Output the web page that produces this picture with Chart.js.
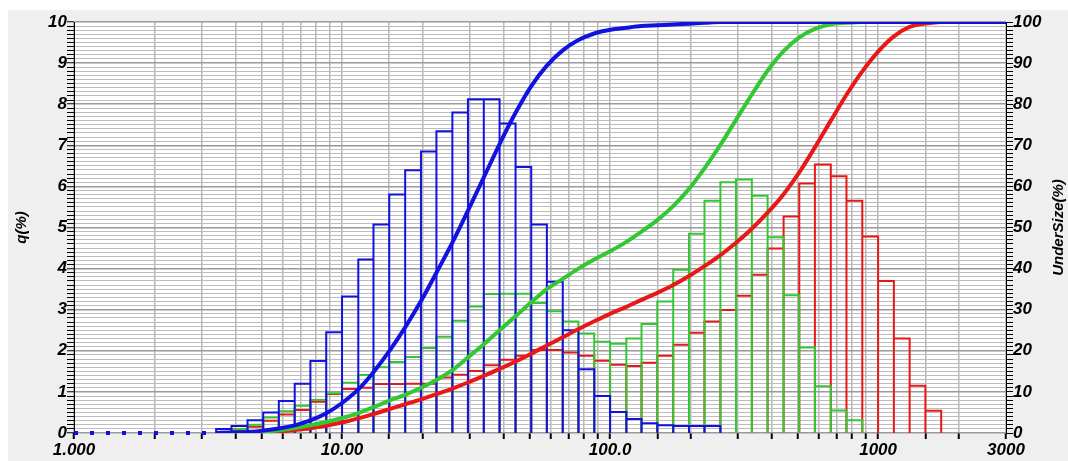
<!DOCTYPE html>
<html>
<head>
<meta charset="utf-8">
<script src="https://cdn.jsdelivr.net/npm/chart.js@4.4.1/dist/chart.umd.min.js"></script>
<style>
  body { margin: 0; background: #efefef; }
  canvas { display: block; }
</style>
</head>
<body>
<canvas id="psd" width="1068" height="461"></canvas>
<script>
// particle size channel edges (um), log spaced
var sizes = [3.39, 3.87, 4.44, 5.08, 5.81, 6.66, 7.62, 8.73, 10.0, 11.5, 13.1, 15.0, 17.2, 19.7,
  22.5, 25.8, 29.5, 33.8, 38.7, 44.4, 50.8, 58.1, 66.6, 76.2, 87.3, 100, 115, 131, 150, 172,
  197, 225, 258, 295, 338, 387, 444, 508, 581, 666, 762, 873, 1000, 1145, 1311, 1501, 1719];

// q(%) per channel (between sizes[i] and sizes[i+1])
var blueQ = [0.1, 0.17, 0.31, 0.5, 0.78, 1.2, 1.75, 2.45, 3.32, 4.22, 5.07, 5.8, 6.39, 6.85, 7.34,
  7.8, 8.12, 8.12, 7.53, 6.47, 5.07, 3.68, 2.5, 1.55, 0.9, 0.51, 0.34, 0.24, 0.19, 0.17, 0.17, 0.17,
  0, 0, 0, 0, 0, 0, 0, 0, 0, 0, 0, 0, 0, 0];
var greenQ = [0, 0.1, 0.2, 0.38, 0.53, 0.66, 0.8, 0.97, 1.22, 1.41, 1.6, 1.73, 1.85, 2.07, 2.34,
  2.73, 3.08, 3.38, 3.39, 3.39, 3.16, 2.96, 2.71, 2.42, 2.22, 2.17, 2.3, 2.65, 3.2, 3.97, 4.85,
  5.65, 6.1, 6.17, 5.77, 4.76, 3.35, 2.08, 1.14, 0.55, 0.31, 0, 0, 0, 0, 0];
var redQ = [0, 0.05, 0.15, 0.3, 0.45, 0.56, 0.76, 0.95, 1.07, 1.1, 1.19, 1.19, 1.2, 1.2, 1.35,
  1.42, 1.51, 1.65, 1.78, 1.88, 2.02, 2.02, 1.96, 1.88, 1.76, 1.66, 1.63, 1.71, 1.88, 2.15, 2.44,
  2.71, 2.99, 3.34, 3.85, 4.49, 5.27, 6.07, 6.53, 6.25, 5.65, 4.78, 3.7, 2.3, 1.15, 0.54];

// UnderSize(%) at each edge, last entry is at the 3000 end of the axis
var cumSizes = sizes.concat([3000]);
var blueCum = [0, 0.1, 0.27, 0.58, 1.08, 1.86, 3.06, 4.81, 7.3, 10.6, 14.8, 19.9, 25.7, 32.1, 39.0,
  46.3, 54.1, 62.2, 70.3, 77.9, 84.4, 89.4, 93.1, 95.6, 97.2, 98.1, 98.6, 99.0, 99.2, 99.4, 99.6,
  99.8, 100, 100, 100, 100, 100, 100, 100, 100, 100, 100, 100, 100, 100, 100, 100, 100];
var greenCum = [null, 0, 0.1, 0.3, 0.68, 1.21, 1.87, 2.67, 3.64, 4.86, 6.27, 7.87, 9.3, 11.0, 12.9,
  15.3, 18.4, 21.6, 25.0, 28.4, 31.8, 35.0, 37.5, 40.0, 42.2, 44.2, 46.5, 49.0, 51.8, 55.2, 59.4,
  64.4, 70.09, 76.19, 82.36, 88.13, 92.89, 96.24, 98.32, 99.46, 99.8, 100, 100, 100, 100, 100, 100, 100];
var redCum = [null, 0, 0.03, 0.12, 0.35, 0.7, 1.15, 1.8, 2.55, 3.55, 4.6, 5.8, 7.0, 8.2, 9.45,
  10.8, 12.3, 13.9, 15.6, 17.4, 19.3, 21.3, 23.3, 25.3, 27.2, 29.0, 30.7, 32.4, 34.1, 36.0, 38.2,
  40.6, 43.3, 46.3, 49.7, 53.6, 58.1, 63.4, 69.5, 76.0, 82.3, 88.0, 92.8, 96.5, 98.8, 99.6, 100, 100];

// blue zero line below the first channel (dotted)
var blueZeroFrom = 1;

var xTickValues = [1, 10, 100, 1000, 3000];
var xTickLabels = ['1.000', '10.00', '100.0', '1000', '3000'];

var BLUE = '#1212e0', GREEN = '#33c833', RED = '#e81818';
var tickFont = { family: 'Liberation Sans, Arial, sans-serif', size: 17, style: 'italic', weight: 'bold' };

function histPoints(q) {
  var pts = [];
  for (var i = 0; i < q.length; i++) {
    if (!q[i]) continue;
    pts.push({ x: sizes[i], y: 0 }, { x: sizes[i], y: q[i] },
             { x: sizes[i + 1], y: q[i] }, { x: sizes[i + 1], y: 0 },
             { x: sizes[i + 1], y: null });
  }
  return pts;
}

function cumPoints(c) {
  var pts = [];
  for (var i = 0; i < c.length; i++) {
    if (c[i] === null) continue;
    pts.push({ x: cumSizes[i], y: c[i] });
  }
  return pts;
}

function isWhole(v) { return Math.abs(v - Math.round(v)) < 1e-6; }

var bgPlugin = {
  id: 'bg',
  beforeDraw: function(chart) {
    var ctx = chart.ctx, a = chart.chartArea;
    ctx.save();
    ctx.fillStyle = '#efefef';
    ctx.fillRect(0, 0, chart.width, chart.height);
    ctx.fillStyle = '#ffffff';
    ctx.fillRect(0, 0, chart.width, 10);
    ctx.fillRect(0, 0, 8, chart.height);
    ctx.fillRect(a.left, a.top, a.right - a.left, a.bottom - a.top);
    ctx.restore();
  }
};

var titlePlugin = {
  id: 'axisTitles',
  afterDraw: function(chart) {
    var ctx = chart.ctx, a = chart.chartArea;
    var mid = (a.top + a.bottom) / 2;
    ctx.save();
    ctx.fillStyle = '#000';
    ctx.font = 'italic bold 15px "Liberation Sans", Arial, sans-serif';
    ctx.textAlign = 'center';
    ctx.textBaseline = 'middle';
    ctx.translate(22, mid);
    ctx.rotate(-Math.PI / 2);
    ctx.fillText('q(%)', 0, 0);
    ctx.restore();
    ctx.save();
    ctx.fillStyle = '#000';
    ctx.font = 'italic bold 15px "Liberation Sans", Arial, sans-serif';
    ctx.textAlign = 'center';
    ctx.textBaseline = 'middle';
    ctx.translate(1059, mid);
    ctx.rotate(-Math.PI / 2);
    ctx.fillText('UnderSize(%)', 0, 0);
    ctx.restore();
  }
};

new Chart(document.getElementById('psd'), {
  type: 'line',
  data: {
    datasets: [
      { data: cumPoints(blueCum), yAxisID: 'y2', borderColor: BLUE, borderWidth: 4,
        cubicInterpolationMode: 'monotone', pointRadius: 0 },
      { data: cumPoints(greenCum), yAxisID: 'y2', borderColor: GREEN, borderWidth: 4,
        cubicInterpolationMode: 'monotone', pointRadius: 0 },
      { data: cumPoints(redCum), yAxisID: 'y2', borderColor: RED, borderWidth: 4,
        cubicInterpolationMode: 'monotone', pointRadius: 0 },
      { data: histPoints(blueQ), yAxisID: 'y', borderColor: BLUE, borderWidth: 2,
        pointRadius: 0, spanGaps: false, borderJoinStyle: 'miter' },
      { data: histPoints(greenQ), yAxisID: 'y', borderColor: GREEN, borderWidth: 2,
        pointRadius: 0, spanGaps: false, borderJoinStyle: 'miter' },
      { data: histPoints(redQ), yAxisID: 'y', borderColor: RED, borderWidth: 2,
        pointRadius: 0, spanGaps: false, borderJoinStyle: 'miter' },
      { data: [{ x: blueZeroFrom, y: 0 }, { x: sizes[0], y: 0 }], yAxisID: 'y', clip: 6,
        borderColor: BLUE, borderWidth: 4, borderDash: [4, 12], pointRadius: 0 }
    ]
  },
  options: {
    responsive: false,
    animation: false,
    layout: { padding: { top: 22, left: 0, right: 0, bottom: 0 } },
    plugins: { legend: { display: false }, tooltip: { enabled: false } },
    scales: {
      x: {
        type: 'logarithmic',
        position: 'bottom',
        min: 1,
        max: 3000,
        afterFit: function(s) { s.height = 28; },
        border: { display: false },
        grid: {
          color: '#b8b8b8',
          lineWidth: 1.5,
          drawTicks: true,
          tickLength: 6,
          tickColor: '#000',
          tickWidth: 2
        },
        ticks: {
          autoSkip: false,
          maxRotation: 0,
          minRotation: 0,
          padding: 1,
          color: '#000',
          font: tickFont,
          callback: function(v) {
            for (var i = 0; i < xTickValues.length; i++) {
              if (Math.abs(v - xTickValues[i]) < 1e-6 * xTickValues[i]) return xTickLabels[i];
            }
            return '';
          }
        }
      },
      y: {
        position: 'left',
        min: 0,
        max: 10,
        afterFit: function(s) { s.width = 74; },
        border: { display: true, color: '#000', width: 1 },
        grid: {
          color: function(c) { return isWhole(c.tick.value) ? '#9a9a9a' : '#bdbdbd'; },
          lineWidth: function(c) { return isWhole(c.tick.value) ? 1.5 : 1; },
          tickColor: '#000',
          tickLength: 7,
          tickWidth: 1
        },
        ticks: {
          stepSize: 0.1,
          autoSkip: false,
          padding: 0,
          color: '#000',
          font: tickFont,
          callback: function(v) { return isWhole(v) ? String(Math.round(v)) : ''; }
        }
      },
      y2: {
        position: 'right',
        min: 0,
        max: 100,
        afterFit: function(s) { s.width = 62; },
        border: { display: true, color: '#000', width: 1 },
        grid: {
          drawOnChartArea: false,
          tickColor: '#000',
          tickLength: 7,
          tickWidth: 1
        },
        ticks: {
          stepSize: 1,
          autoSkip: false,
          padding: 0,
          color: '#000',
          font: tickFont,
          callback: function(v) { return Math.round(v) % 10 === 0 ? String(Math.round(v)) : ''; }
        }
      }
    }
  },
  plugins: [bgPlugin, titlePlugin]
});
</script>
</body>
</html>
